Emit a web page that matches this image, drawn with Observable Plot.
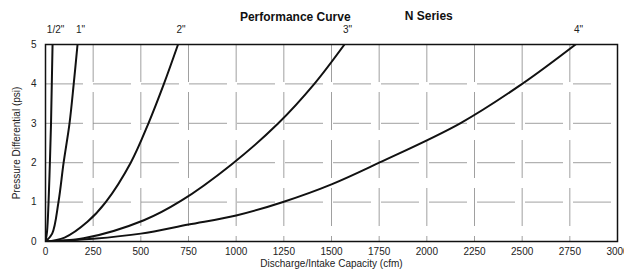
<!DOCTYPE html>
<html><head><meta charset="utf-8">
<script src="https://cdn.jsdelivr.net/npm/d3@7"></script>
<script src="https://cdn.jsdelivr.net/npm/@observablehq/plot@0.6"></script>
<style>body{margin:0;background:#fff;font-family:"Liberation Sans",Arial,sans-serif;}</style>
</head><body><div id="chart"></div>
<script>
const sizeLabels = ['1/2"', '1"', '2"', '3"', '4"'];
const halfQ = [0, 8, 16, 23, 29, 33, 37];
const halfP = [0, 0.25, 1, 2, 3, 4, 5];
const oneQ = [0, 35, 68, 95, 126, 148, 168];
const oneP = [0, 0.2, 1, 2, 3, 4, 5];
const twoQ = [0, 100, 220, 316, 447, 540, 621, 695];
const twoP = [0, 0.1, 0.5, 1, 2, 3, 4, 5];
const threeQ = [0, 200, 516, 710, 974, 1221, 1410, 1568];
const threeP = [0, 0.08, 0.54, 1.03, 1.95, 3, 4, 5];
const fourQ = [0, 250, 500, 750, 1000, 1250, 1500, 1750, 2175, 2500, 2780];
const fourP = [0, 0.07, 0.2, 0.43, 0.66, 1.01, 1.45, 2, 3, 4, 5];
const xTicks = [0, 250, 500, 750, 1000, 1250, 1500, 1750, 2000, 2250, 2500, 2750, 3000];
const yTicks = [0, 1, 2, 3, 4, 5];
const xTitle = "Discharge/Intake Capacity (cfm)";
const yTitle = "Pressure Differential (psi)";

const series = [[halfQ, halfP], [oneQ, oneP], [twoQ, twoP], [threeQ, threeP], [fourQ, fourP]];
const rows = [];
series.forEach(([qs, ps], i) => qs.forEach((q, j) => rows.push({size: sizeLabels[i], q, p: ps[j]})));
const tops = series.map(([qs, ps], i) => ({size: sizeLabels[i], q: qs[qs.length - 1], p: ps[ps.length - 1]}));

const chart = Plot.plot({
  width: 624, height: 271,
  marginLeft: 45, marginRight: 7, marginTop: 44, marginBottom: 30,
  style: {fontFamily: '"Liberation Sans", Arial, sans-serif', fontSize: "10px", color: "#222", background: "#fff"},
  x: {domain: [0, 3000], ticks: xTicks, tickSize: 0, tickPadding: 6, tickFormat: d3.format("d"), label: null},
  y: {domain: [0, 5], ticks: yTicks, tickSize: 0, tickPadding: 9, tickFormat: d3.format("d"), label: null},
  marks: [
    Plot.gridX(xTicks, {stroke: "#888", strokeOpacity: 0.8, strokeDasharray: "38,10"}),
    Plot.gridY(yTicks, {stroke: "#888", strokeOpacity: 0.8, strokeDasharray: "38,10"}),
    Plot.frame({stroke: "#111", strokeWidth: 1.5}),
    Plot.line(rows, {x: "q", y: "p", z: "size", stroke: "#111", strokeWidth: 2, curve: "catmull-rom", clip: true}),
    Plot.text(tops, {x: "q", y: "p", text: "size", dy: -15, dx: 3, fontSize: 10, fill: "#222"}),
    Plot.text(["Performance Curve"], {x: 1310, y: 5, dy: -27, text: d => d, fontWeight: "bold", fontSize: 12, fill: "#111"}),
    Plot.text(["N Series"], {x: 2010, y: 5, dy: -28, text: d => d, fontWeight: "bold", fontSize: 12, fill: "#111"}),
    Plot.axisX({ticks: xTicks, tickSize: 0, tickPadding: 6, tickFormat: d3.format("d"), label: null}),
    Plot.axisY({ticks: yTicks, tickSize: 0, tickPadding: 9, tickFormat: d3.format("d"), label: null}),
    Plot.text([xTitle], {frameAnchor: "bottom", text: d => d, dy: 25, fontSize: 10, fill: "#222"}),
    Plot.text([yTitle], {frameAnchor: "left", textAnchor: "middle", text: d => d, dx: -29, rotate: -90, fontSize: 10, fill: "#222"})
  ]
});
document.getElementById("chart").appendChild(chart);
</script></body></html>
